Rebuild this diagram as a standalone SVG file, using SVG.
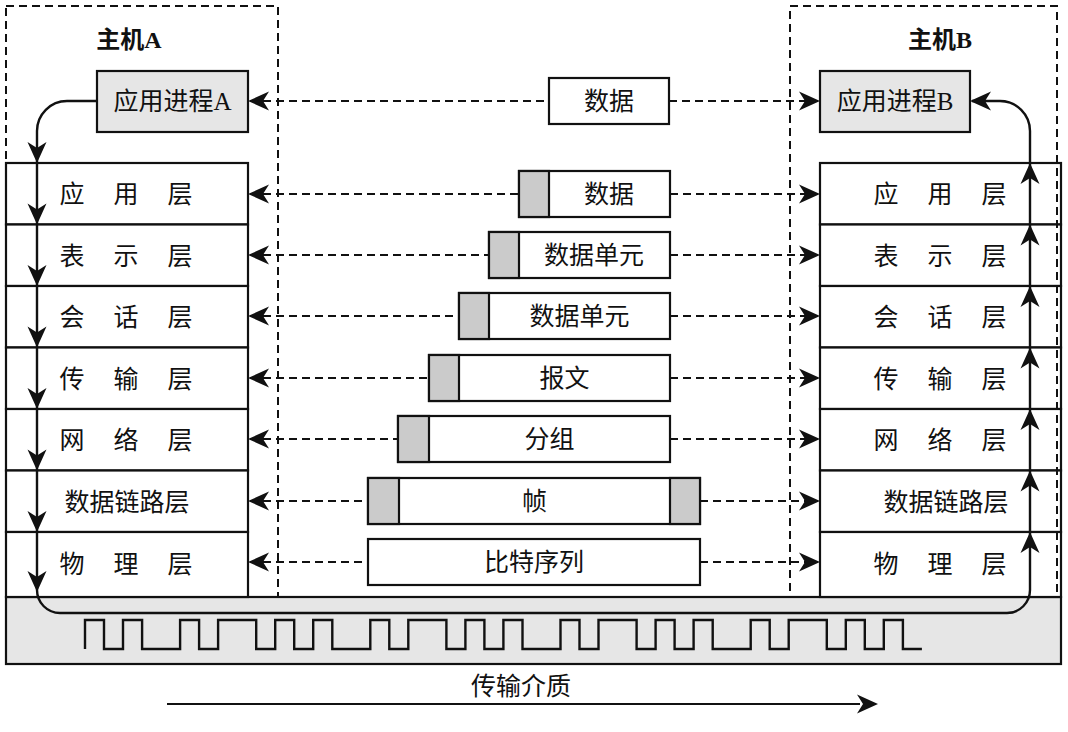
<svg xmlns="http://www.w3.org/2000/svg" xmlns:xlink="http://www.w3.org/1999/xlink" width="1068" height="732" viewBox="0 0 1068 732">
<style>
.t{font-family:"Liberation Serif","Noto Sans CJK SC",serif;font-size:25px;fill:#111;text-anchor:middle}
.h{font-family:"Liberation Serif","Noto Sans CJK SC",serif;font-size:24px;font-weight:bold;fill:#111;text-anchor:middle}
.box{fill:#fff;stroke:#111;stroke-width:2.2}
.proc{fill:#e6e6e6;stroke:#111;stroke-width:2.2}
.hdr{fill:#cbcbcb;stroke:#111;stroke-width:2.2}
.host{fill:none;stroke:#111;stroke-width:2;stroke-dasharray:8 5}
.dash{fill:none;stroke:#111;stroke-width:2;stroke-dasharray:8 5}
.flow{fill:none;stroke:#111;stroke-width:2.4}
.ah{fill:#111}
</style>
<defs>
<path id="ah" d="M0,0 L-21,-9.5 L-15,0 L-21,9.5 Z"/>
</defs>
<rect width="1068" height="732" fill="#fff"/>

<g id="medium">
<rect x="6" y="597" width="1055" height="67" fill="#e6e6e6" stroke="#111" stroke-width="2.2"/>
<path d="M85,649 V620 H104 V649 H123 V620 H142.1 V649 H180.1 V620 H199.1 V649 H218.1 V620 H256.2 V649 H275.2 V620 H294.2 V649 H313.2 V620 H332.3 V649 H370.3 V620 H389.3 V649 H408.3 V620 H446.4 V649 H465.4 V620 H484.4 V649 H503.4 V620 H522.5 V649 H560.5 V620 H579.5 V649 H598.5 V620 H636.6 V649 H655.6 V620 H674.6 V649 H693.6 V620 H712.7 V649 H750.7 V620 H769.7 V649 H788.7 V620 H826.8 V649 H845.8 V620 H864.8 V649 H883.8 V620 H902.9 V649 H921.9" fill="none" stroke="#111" stroke-width="2.4"/>
</g>

<g id="layersA">
<g id="A-app"><rect class="box" x="6" y="163" width="242" height="61.5"/><text class="t" x="72 126 180" y="203">应用层</text></g>
<g id="A-pres"><rect class="box" x="6" y="224.5" width="242" height="61.5"/><text class="t" x="72 126 180" y="264.5">表示层</text></g>
<g id="A-sess"><rect class="box" x="6" y="286" width="242" height="61.5"/><text class="t" x="72 126 180" y="326">会话层</text></g>
<g id="A-trans"><rect class="box" x="6" y="347.5" width="242" height="61.5"/><text class="t" x="72 126 180" y="387.5">传输层</text></g>
<g id="A-net"><rect class="box" x="6" y="409" width="242" height="61.5"/><text class="t" x="72 126 180" y="449">网络层</text></g>
<g id="A-link"><rect class="box" x="6" y="470.5" width="242" height="61.5"/><text class="t" x="127" y="510.5">数据链路层</text></g>
<g id="A-phys"><rect class="box" x="6" y="532" width="242" height="65"/><text class="t" x="72 126 180" y="573">物理层</text></g>
</g>

<g id="layersB">
<g id="B-app"><rect class="box" x="820" y="163" width="241" height="61.5"/><text class="t" x="886 940 994" y="203">应用层</text></g>
<g id="B-pres"><rect class="box" x="820" y="224.5" width="241" height="61.5"/><text class="t" x="886 940 994" y="264.5">表示层</text></g>
<g id="B-sess"><rect class="box" x="820" y="286" width="241" height="61.5"/><text class="t" x="886 940 994" y="326">会话层</text></g>
<g id="B-trans"><rect class="box" x="820" y="347.5" width="241" height="61.5"/><text class="t" x="886 940 994" y="387.5">传输层</text></g>
<g id="B-net"><rect class="box" x="820" y="409" width="241" height="61.5"/><text class="t" x="886 940 994" y="449">网络层</text></g>
<g id="B-link"><rect class="box" x="820" y="470.5" width="241" height="61.5"/><text class="t" x="946" y="510.5">数据链路层</text></g>
<g id="B-phys"><rect class="box" x="820" y="532" width="241" height="65"/><text class="t" x="886 940 994" y="573">物理层</text></g>
</g>

<g id="hostA">
<rect class="host" x="6" y="6" width="272" height="591"/>
<text class="h" x="129" y="48">主机A</text>
</g>
<g id="hostB">
<rect class="host" x="790" y="6" width="267" height="591"/>
<text class="h" x="940" y="48">主机B</text>
</g>

<g id="procA"><rect class="proc" x="97" y="71" width="151" height="61"/><text class="t" x="172.5" y="110">应用进程A</text></g>
<g id="procB"><rect class="proc" x="820" y="71" width="150" height="61"/><text class="t" x="895" y="110">应用进程B</text></g>

<g id="pdus">
<g id="pdu-data"><rect class="box" x="549" y="78" width="120" height="46"/><text class="t" x="609" y="110">数据</text></g>
<g id="pdu-app"><rect class="box" x="519" y="171" width="151" height="46"/><rect class="hdr" x="519" y="171" width="30" height="46"/><text class="t" x="609" y="203">数据</text></g>
<g id="pdu-pres"><rect class="box" x="489" y="232" width="181" height="46"/><rect class="hdr" x="489" y="232" width="30" height="46"/><text class="t" x="594" y="264">数据单元</text></g>
<g id="pdu-sess"><rect class="box" x="459" y="293" width="211" height="46"/><rect class="hdr" x="459" y="293" width="30" height="46"/><text class="t" x="579.5" y="325">数据单元</text></g>
<g id="pdu-trans"><rect class="box" x="429" y="355" width="241" height="46"/><rect class="hdr" x="429" y="355" width="30" height="46"/><text class="t" x="564.5" y="387">报文</text></g>
<g id="pdu-net"><rect class="box" x="398" y="416" width="272" height="46"/><rect class="hdr" x="398" y="416" width="31" height="46"/><text class="t" x="549.5" y="448">分组</text></g>
<g id="pdu-link"><rect class="box" x="368" y="478" width="332" height="46"/><rect class="hdr" x="368" y="478" width="31" height="46"/><rect class="hdr" x="670" y="478" width="30" height="46"/><text class="t" x="534.5" y="510">帧</text></g>
<g id="pdu-phys"><rect class="box" x="368" y="539" width="332" height="46"/><text class="t" x="534" y="571">比特序列</text></g>
</g>

<g id="connectors">
<path class="dash" d="M250,101 H549 M669,101 H818"/>
<path class="dash" d="M250,194 H519 M670,194 H818"/>
<path class="dash" d="M250,255 H489 M670,255 H818"/>
<path class="dash" d="M250,316 H459 M670,316 H818"/>
<path class="dash" d="M250,378 H429 M670,378 H818"/>
<path class="dash" d="M250,439 H398 M670,439 H818"/>
<path class="dash" d="M250,501 H368 M700,501 H818"/>
<path class="dash" d="M250,562 H368 M700,562 H818"/>
<g class="ah">
<use xlink:href="#ah" transform="translate(248,101) rotate(180)"/>
<use xlink:href="#ah" transform="translate(248,194) rotate(180)"/>
<use xlink:href="#ah" transform="translate(248,255) rotate(180)"/>
<use xlink:href="#ah" transform="translate(248,316) rotate(180)"/>
<use xlink:href="#ah" transform="translate(248,378) rotate(180)"/>
<use xlink:href="#ah" transform="translate(248,439) rotate(180)"/>
<use xlink:href="#ah" transform="translate(248,501) rotate(180)"/>
<use xlink:href="#ah" transform="translate(248,562) rotate(180)"/>
<use xlink:href="#ah" transform="translate(820,101)"/>
<use xlink:href="#ah" transform="translate(820,194)"/>
<use xlink:href="#ah" transform="translate(820,255)"/>
<use xlink:href="#ah" transform="translate(820,316)"/>
<use xlink:href="#ah" transform="translate(820,378)"/>
<use xlink:href="#ah" transform="translate(820,439)"/>
<use xlink:href="#ah" transform="translate(820,501)"/>
<use xlink:href="#ah" transform="translate(820,562)"/>
</g>
<path class="flow" d="M97,101 H67 A30,30 0 0 0 37,131 V590 A23,23 0 0 0 60,613 H1007 A23,23 0 0 0 1030,590 V131 A30,30 0 0 0 1000,101 H972"/>
<g class="ah">
<use xlink:href="#ah" transform="translate(37,163) rotate(90)"/>
<use xlink:href="#ah" transform="translate(37,224.5) rotate(90)"/>
<use xlink:href="#ah" transform="translate(37,286) rotate(90)"/>
<use xlink:href="#ah" transform="translate(37,347.5) rotate(90)"/>
<use xlink:href="#ah" transform="translate(37,409) rotate(90)"/>
<use xlink:href="#ah" transform="translate(37,470.5) rotate(90)"/>
<use xlink:href="#ah" transform="translate(37,532) rotate(90)"/>
<use xlink:href="#ah" transform="translate(37,592) rotate(90)"/>
<use xlink:href="#ah" transform="translate(1030,163) rotate(-90)"/>
<use xlink:href="#ah" transform="translate(1030,224.5) rotate(-90)"/>
<use xlink:href="#ah" transform="translate(1030,286) rotate(-90)"/>
<use xlink:href="#ah" transform="translate(1030,347.5) rotate(-90)"/>
<use xlink:href="#ah" transform="translate(1030,409) rotate(-90)"/>
<use xlink:href="#ah" transform="translate(1030,470.5) rotate(-90)"/>
<use xlink:href="#ah" transform="translate(1030,532) rotate(-90)"/>
<use xlink:href="#ah" transform="translate(970,101) rotate(180)"/>
</g>
<path d="M167,704 H860" fill="none" stroke="#111" stroke-width="2"/>
<use class="ah" xlink:href="#ah" transform="translate(878,704)"/>
</g>

<text class="t" x="521" y="695">传输介质</text>
</svg>
